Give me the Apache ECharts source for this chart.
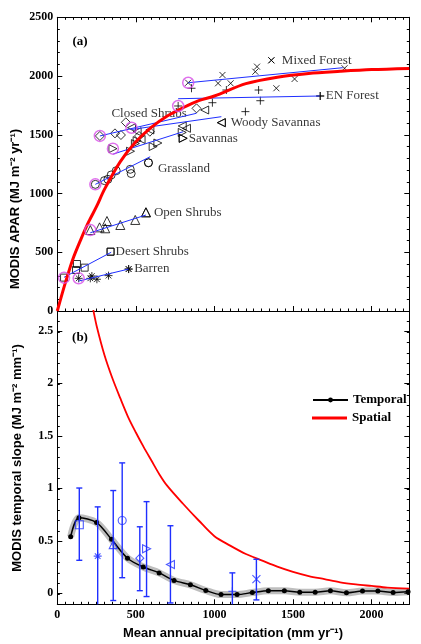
<!DOCTYPE html>
<html><head><meta charset="utf-8">
<script src="https://cdn.jsdelivr.net/npm/echarts@6/dist/echarts.min.js"></script>
<style>html,body{margin:0;padding:0;background:#fff}#c{width:421px;height:644px}</style>
</head><body><div id="c"></div><script>
// ---------- Panel (a): MODIS APAR vs precipitation ----------
const desertP = [43, 119, 125, 174, 339];
const desertA = [284, 349, 400, 369, 505];
const barrenP = [136, 210, 220, 252, 326, 454];
const barrenA = [278, 278, 298, 270, 301, 357];
const openShrubP = [210, 269, 305, 316, 401, 496, 564];
const openShrubA = [689, 712, 704, 766, 732, 775, 840];
const grassP = [242, 300, 322, 343, 375, 464, 470, 580];
const grassA = [1078, 1110, 1121, 1158, 1194, 1206, 1170, 1262];
const savannaP = [354, 466, 497, 508, 610, 640, 795, 801];
const savannaA = [1382, 1360, 1425, 1450, 1400, 1430, 1520, 1470];
const closedShrubP = [271, 367, 405, 436, 520, 589, 886];
const closedShrubA = [1490, 1512, 1498, 1606, 1490, 1526, 1725];
const woodySavP = [472, 508, 533, 589, 795, 822, 938, 1044];
const woodySavA = [1560, 1526, 1460, 1541, 1575, 1555, 1711, 1603];
const enForestP = [769, 854, 987, 1076, 1197, 1281, 1292, 1673];
const enForestA = [1745, 1896, 1773, 1881, 1697, 1881, 1790, 1830];
const mixedP = [833, 1023, 1051, 1103, 1260, 1271, 1362, 1394, 1510, 1828];
const mixedA = [1943, 1938, 2009, 1938, 2037, 2080, 2134, 1896, 1975, 2066];

// labelled points
const labelNames = ['Mixed Forest', 'EN Forest', 'Woody Savannas', 'Savannas', 'Grassland', 'Open Shrubs', 'Desert Shrubs', 'Barren', 'Closed Shrubs'];
const labelP = [1362, 1673, 1044, 801, 580, 564, 339, 454, 338];
const labelA = [2134, 1830, 1603, 1470, 1262, 840, 505, 357, 1683];

// regression (temporal) lines per class
const regStartP = [43, 136, 210, 242, 356, 271, 472, 769, 833];
const regStartA = [287, 255, 666, 1078, 1336, 1490, 1545, 1807, 1943];
const regEndP = [343, 454, 564, 591, 801, 886, 1044, 1669, 1817];
const regEndA = [500, 357, 817, 1313, 1526, 1683, 1654, 1830, 2071];

// magenta-circled points
const haloP = [43, 136, 210, 242, 354, 271, 472, 769, 833];
const haloA = [284, 278, 689, 1078, 1382, 1490, 1560, 1745, 1943];

// spatial fit (red) in panel a
const spatialP = [0, 50, 100, 150, 200, 250, 300, 400, 500, 600, 700, 800, 900, 1000, 1200, 1400, 1600, 1800, 2000, 2240];
const spatialA = [0, 235, 445, 610, 760, 890, 1035, 1270, 1440, 1565, 1660, 1730, 1790, 1830, 1935, 1990, 2022, 2040, 2055, 2065];

// ---------- Panel (b): slopes ----------
const spatialSlopeP = [229, 250, 300, 350, 400, 450, 500, 550, 600, 650, 700, 800, 900, 1000, 1100, 1200, 1300, 1400, 1500, 1600, 1700, 1800, 1900, 2000, 2100, 2240];
const spatialSlopeS = [2.71, 2.56, 2.28, 2.06, 1.87, 1.69, 1.54, 1.40, 1.27, 1.14, 1.03, 0.86, 0.70, 0.55, 0.46, 0.38, 0.32, 0.26, 0.21, 0.17, 0.14, 0.11, 0.09, 0.075, 0.06, 0.05];
const temporalP = [85, 138, 250, 345, 447, 547, 648, 743, 847, 945, 1042, 1144, 1241, 1343, 1445, 1543, 1641, 1738, 1840, 1942, 2040, 2137, 2232];
const temporalS = [0.545, 0.727, 0.68, 0.52, 0.34, 0.256, 0.20, 0.128, 0.086, 0.032, -0.007, -0.007, 0.012, 0.029, 0.029, 0.016, 0.016, 0.029, 0.01, 0.026, 0.026, 0.013, 0.02];
const classSlopeP = [140, 257, 356, 413, 525, 568, 720, 1114, 1267];
const classSlopeS = [0.66, 0.36, 0.47, 0.70, 0.34, 0.43, 0.28, 0.025, 0.14];
const classSlopeLow = [0.32, -0.2, -0.064, 0.154, 0.03, -0.026, -0.087, -0.2, -0.058];
const classSlopeHigh = [1.01, 0.83, 0.986, 1.25, 0.64, 0.88, 0.65, 0.20, 0.33];

// tick labels
const xTickLabels = ['0', '500', '1000', '1500', '2000'];
const yTopTickLabels = ['0', '500', '1000', '1500', '2000', '2500'];
const yBottomTickLabels = ['0', '0.5', '1', '1.5', '2', '2.5'];

const SERIF = '"Liberation Serif","Times New Roman",serif';
const SANS = '"Liberation Sans",Arial,sans-serif';
const BLUE = '#1f2fff';
const MAGENTA = '#d84ee8';

const SYM = {
  cross: 'path://M0,0L10,10M10,0L0,10',
  plus: 'path://M5,0L5,10M0,5L10,5',
  star: 'path://M5,0L5,10M0,5L10,5M1.5,1.5L8.5,8.5M8.5,1.5L1.5,8.5',
  right: 'path://M0,0L10,5L0,10Z',
  left: 'path://M10,0L0,5L10,10Z',
  tri: 'triangle', circle: 'circle', rect: 'rect', diamond: 'diamond'
};
const hollow = c => ({ color: 'rgba(0,0,0,0)', borderColor: c, borderWidth: 1 });

function zip(a, b) { return a.map((v, i) => [v, b[i]]); }

const classes = [
  [desertP, desertA, SYM.rect, 7],
  [barrenP, barrenA, SYM.star, 8],
  [openShrubP, openShrubA, SYM.tri, 9],
  [grassP, grassA, SYM.circle, 8],
  [savannaP, savannaA, SYM.right, 8],
  [closedShrubP, closedShrubA, SYM.diamond, 9],
  [woodySavP, woodySavA, SYM.left, 8],
  [enForestP, enForestA, SYM.plus, 8],
  [mixedP, mixedA, SYM.cross, 6]
];
const labelSyms = [SYM.cross, SYM.plus, SYM.left, SYM.right, SYM.circle, SYM.tri, SYM.rect, SYM.star, 'circle'];
const labelSizes = [6, 8, 8, 8, 8, 9, 7, 8, 1];
const labelOffsets = [[3, 0], [-3, 0], [1, 0], [-3, 0], [1, 6], [-1, 0], [-3, 0], [-3, 0], [-4, 0]];
const bottomSyms = [SYM.rect, SYM.star, SYM.tri, SYM.circle, SYM.diamond, SYM.right, SYM.left, SYM.plus, SYM.cross];

const series = [];
classes.forEach(c => series.push({
  type: 'scatter', xAxisIndex: 0, yAxisIndex: 0, symbol: c[2], symbolSize: c[3],
  itemStyle: hollow('#000'), data: zip(c[0], c[1]), z: 3
}));
regStartP.forEach((p, i) => series.push({
  type: 'line', xAxisIndex: 0, yAxisIndex: 0, symbol: 'none',
  lineStyle: { color: BLUE, width: 1 }, data: [[p, regStartA[i]], [regEndP[i], regEndA[i]]], z: 4
}));
series.push({
  type: 'line', name: 'Spatial', xAxisIndex: 0, yAxisIndex: 0, symbol: 'none', smooth: 0.3,
  lineStyle: { color: '#ff0000', width: 3 }, itemStyle: { color: '#ff0000' },
  data: zip(spatialP, spatialA), z: 5
});
series.push({
  type: 'scatter', xAxisIndex: 0, yAxisIndex: 0, symbol: 'circle', symbolSize: 11,
  itemStyle: { color: 'rgba(0,0,0,0)', borderColor: MAGENTA, borderWidth: 1.5 },
  data: zip(haloP, haloA), z: 6
});
series.push({
  type: 'scatter', xAxisIndex: 0, yAxisIndex: 0, z: 2,
  itemStyle: hollow('#000'),
  data: labelNames.map((n, i) => ({
    value: [labelP[i], labelA[i]], name: n, symbol: labelSyms[i], symbolSize: labelSizes[i],
    itemStyle: i === 8 ? { color: 'rgba(0,0,0,0)', borderColor: 'rgba(0,0,0,0)' } : undefined,
    label: { offset: labelOffsets[i] }
  })),
  label: {
    show: true, position: 'right', distance: 4, formatter: p => p.name,
    fontFamily: SERIF, fontSize: 13, color: '#000'
  }
});

// panel b
series.push({
  type: 'line', name: 'Spatial', xAxisIndex: 4, yAxisIndex: 4, symbol: 'none', smooth: 0.3,
  lineStyle: { color: '#ff0000', width: 1.8 }, itemStyle: { color: '#ff0000' },
  data: zip(spatialSlopeP, spatialSlopeS), z: 3
});
series.push({
  type: 'line', name: 'band', xAxisIndex: 4, yAxisIndex: 4, symbol: 'none', smooth: 0.3,
  lineStyle: { color: 'rgba(110,110,110,0.45)', width: 7 },
  data: zip(temporalP, temporalS), z: 2
});
series.push({
  type: 'line', name: 'Temporal', xAxisIndex: 4, yAxisIndex: 4, symbol: 'circle', symbolSize: 5, smooth: 0.3,
  lineStyle: { color: '#000', width: 1.5 }, itemStyle: { color: '#000' },
  data: zip(temporalP, temporalS), z: 4
});
series.push({
  type: 'custom', xAxisIndex: 4, yAxisIndex: 4, z: 5,
  data: classSlopeP.map((p, i) => [p, classSlopeLow[i], classSlopeHigh[i]]),
  encode: { x: 0, y: [1, 2] },
  renderItem: (params, api) => {
    const x = api.value(0);
    const pLo = api.coord([x, api.value(1)]);
    const pHi = api.coord([x, api.value(2)]);
    const cs = params.coordSys;
    const bottom = cs.y + cs.height;
    const st = { stroke: BLUE, lineWidth: 1.4 };
    const yLo = Math.min(pLo[1], bottom);
    const ch = [
      { type: 'line', shape: { x1: pHi[0], y1: pHi[1], x2: pHi[0], y2: yLo }, style: st },
      { type: 'line', shape: { x1: pHi[0] - 3, y1: pHi[1], x2: pHi[0] + 3, y2: pHi[1] }, style: st }
    ];
    if (pLo[1] <= bottom) ch.push({ type: 'line', shape: { x1: pLo[0] - 3, y1: pLo[1], x2: pLo[0] + 3, y2: pLo[1] }, style: st });
    return { type: 'group', children: ch };
  }
});
series.push({
  type: 'scatter', xAxisIndex: 4, yAxisIndex: 4, z: 6, itemStyle: { color: 'rgba(0,0,0,0)', borderColor: BLUE, borderWidth: 1.1 },
  data: classSlopeP.map((p, i) => ({ value: [p, classSlopeS[i]], symbol: bottomSyms[i], symbolSize: 8 }))
});

const tickFont = { fontFamily: SERIF, fontWeight: 'bold', fontSize: 12, color: '#000' };
function xAx(grid, pos, interval, len, opts) {
  return Object.assign({
    type: 'value', gridIndex: grid, position: pos, min: 0, max: 2240, interval: interval,
    axisLine: { show: false, onZero: false, lineStyle: { color: '#000', width: 1 } },
    axisTick: { show: true, inside: true, length: len, lineStyle: { color: '#000', width: 1 } },
    axisLabel: { show: false }, splitLine: { show: false }
  }, opts || {});
}
function yAx(grid, pos, min, max, interval, len, opts) {
  return Object.assign({
    type: 'value', gridIndex: grid, position: pos, min: min, max: max, interval: interval,
    axisLine: { show: false, onZero: false, lineStyle: { color: '#000', width: 1 } },
    axisTick: { show: true, inside: true, length: len, lineStyle: { color: '#000', width: 1 } },
    axisLabel: { show: false }, splitLine: { show: false }
  }, opts || {});
}
const lineOn = { show: true, onZero: false, lineStyle: { color: '#000', width: 1 } };
const legendText = { fontFamily: SERIF, fontWeight: 'bold', fontSize: 13, color: '#000' };

const option = {
  animation: false,
  backgroundColor: '#fff',
  grid: [
    { left: 57.3, top: 17.3, width: 352, height: 293.7 },
    { left: 57.3, top: 311, width: 352, height: 293.3 },
    { left: 57.3, top: 330.9, width: 352, height: 262.4 }
  ],
  xAxis: [
    xAx(0, 'bottom', 500, 5, { axisLine: lineOn }),
    xAx(0, 'bottom', 50, 2.5),
    xAx(0, 'top', 500, 5, { axisLine: lineOn }),
    xAx(0, 'top', 50, 2.5),
    xAx(1, 'bottom', 500, 5, {
      axisLine: lineOn,
      axisLabel: Object.assign({ show: true, margin: 5, showMaxLabel: false,
        formatter: v => xTickLabels[Math.round(v / 500)] || '' }, tickFont)
    }),
    xAx(1, 'bottom', 50, 2.5),
    { type: 'value', gridIndex: 2, min: 0, max: 1, show: false }
  ],
  yAxis: [
    yAx(0, 'left', 0, 2500, 500, 5, {
      axisLine: lineOn,
      axisLabel: Object.assign({ show: true, margin: 4, formatter: v => yTopTickLabels[Math.round(v / 500)] }, tickFont)
    }),
    yAx(0, 'left', 0, 2500, 100, 2.5),
    yAx(0, 'right', 0, 2500, 500, 5, { axisLine: lineOn }),
    yAx(0, 'right', 0, 2500, 100, 2.5),
    yAx(1, 'left', -0.1, 2.7, 0.1, 2.5, { axisLine: lineOn }),
    yAx(1, 'right', -0.1, 2.7, 0.1, 2.5, { axisLine: lineOn }),
    yAx(2, 'left', 0, 2.5, 0.5, 5, {
      axisLabel: Object.assign({ show: true, margin: 4, formatter: v => yBottomTickLabels[Math.round(v / 0.5)] }, tickFont)
    }),
    yAx(2, 'right', 0, 2.5, 0.5, 5)
  ],
  legend: [
    {
      data: ['Temporal'], orient: 'vertical', left: 312, top: 393.5,
      itemWidth: 35, itemHeight: 6, selectedMode: false, padding: 0, textStyle: legendText
    },
    {
      data: [{ name: 'Spatial', icon: 'rect' }], orient: 'vertical', left: 312, top: 411.5,
      itemWidth: 35, itemHeight: 3, selectedMode: false, padding: 0, textStyle: legendText
    }
  ],
  graphic: [
    { type: 'text', x: 80, y: 42, style: { text: '(a)', font: 'bold 13px ' + SERIF, fill: '#000', textAlign: 'center', textVerticalAlign: 'middle' } },
    { type: 'text', x: 80, y: 337.5, style: { text: '(b)', font: 'bold 13px ' + SERIF, fill: '#000', textAlign: 'center', textVerticalAlign: 'middle' } },
    { type: 'text', x: 15, y: 209, rotation: Math.PI / 2, style: { text: 'MODIS APAR (MJ m⁻² yr⁻¹)', font: 'bold 13px ' + SANS, fill: '#000', textAlign: 'center', textVerticalAlign: 'middle' } },
    { type: 'text', x: 17, y: 458, rotation: Math.PI / 2, style: { text: 'MODIS temporal slope (MJ m⁻² mm⁻¹)', font: 'bold 13px ' + SANS, fill: '#000', textAlign: 'center', textVerticalAlign: 'middle' } },
    { type: 'text', x: 233, y: 633, style: { text: 'Mean annual precipitation (mm yr⁻¹)', font: 'bold 13px ' + SANS, fill: '#000', textAlign: 'center', textVerticalAlign: 'middle' } }
  ],
  series: series
};
const chart = echarts.init(document.getElementById('c'), null, { renderer: 'canvas' });
chart.setOption(option);
</script></body></html>
